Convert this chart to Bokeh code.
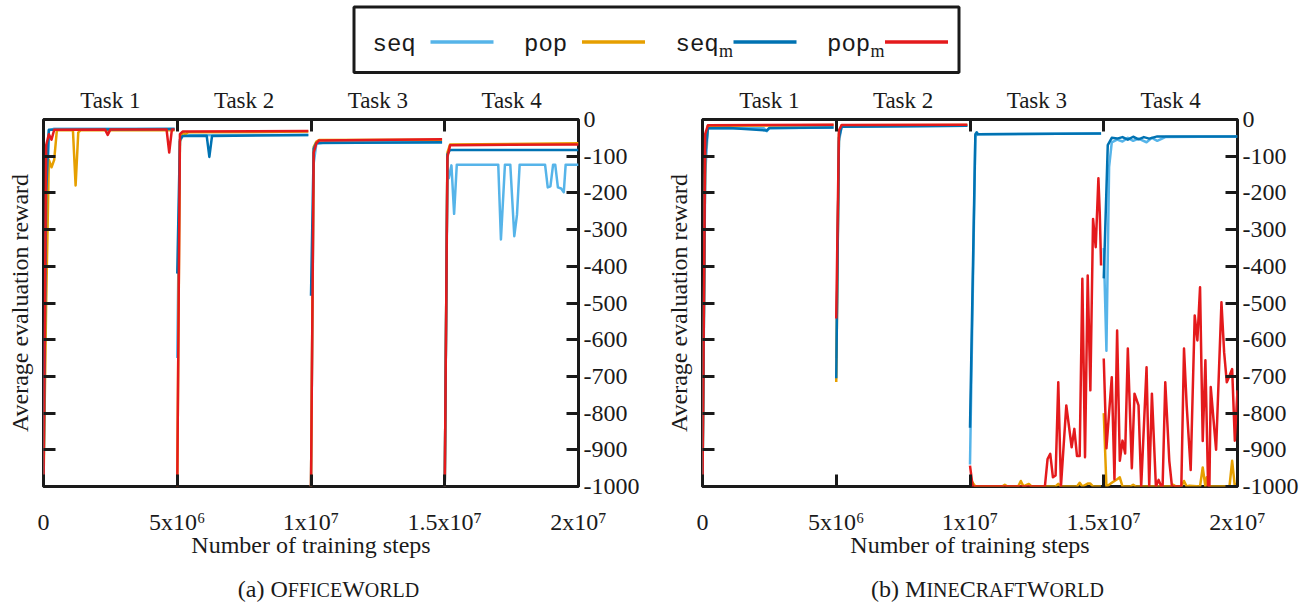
from bokeh.plotting import figure
from bokeh.models import Range1d, LinearAxis, FixedTicker
from bokeh.layouts import column, row
from bokeh.embed import file_html
from bokeh.resources import INLINE
from bokeh.core.properties import value

# ---------------- chart data ----------------
SERIES_NAMES = ["seq", "pop", "seq", "pop"]
SERIES_SUBS = ["", "", "m", "m"]
SERIES_COLORS = ["#56B4E9", "#E69F00", "#0072B2", "#E41A1C"]
TASK_LABELS = ["Task 1", "Task 2", "Task 3", "Task 4"]
TASK_LENGTH = 5e6
X_MAX = 2e7
Y_MIN, Y_MAX = -1000, 0
X_TICKS = [0, 5e6, 1e7, 1.5e7, 2e7]
X_TICK_LABELS = ["0", "5x10⁶", "1x10⁷", "1.5x10⁷", "2x10⁷"]
Y_TICKS = [0, -100, -200, -300, -400, -500, -600, -700, -800, -900, -1000]
Y_TICK_LABELS = ["0", "-100", "-200", "-300", "-400", "-500", "-600", "-700", "-800", "-900", "-1000"]
Y_LABEL = "Average evaluation reward"
X_LABEL = "Number of training steps"
STEP_UNIT = 1e6  # x values of the series are in millions of steps

# (a) OfficeWorld
OW_SEQ_X = [0, 0.1, 0.2, 0.4, 4.9,
            5.0, 5.1, 5.2, 5.5, 9.9,
            10.0, 10.1, 10.2, 10.5, 14.9,
            15.0, 15.1, 15.15, 15.25, 15.35, 15.45, 17.0, 17.1, 17.25, 17.45, 17.6, 17.7,
            17.8, 18.75, 18.85, 18.95, 19.05, 19.13, 19.23, 19.35, 19.45, 19.52, 20.0]
OW_SEQ_Y = [-1000, -300, -30, -25, -25,
            -650, -60, -45, -43, -42,
            -1000, -120, -66, -63, -63,
            -1000, -135, -160, -125, -257, -123, -123, -327, -123, -123, -318, -260,
            -123, -123, -185, -182, -123, -123, -185, -188, -198, -123, -123]
OW_POP_X = [0, 0.1, 0.2, 0.3, 0.4, 0.5, 1.1, 1.2, 1.3, 1.4, 4.9,
            5.0, 5.1, 5.2, 5.3, 5.4, 9.9,
            10.0, 10.1, 10.2, 10.3, 14.9,
            15.0, 15.1, 15.2, 20.0]
OW_POP_Y = [-1000, -500, -110, -130, -110, -29, -29, -180, -35, -29, -29,
            -1000, -60, -35, -40, -35, -33,
            -1000, -75, -60, -56, -55,
            -1000, -90, -68, -65]
OW_SEQM_X = [0, 0.1, 0.2, 4.9,
             5.0, 5.1, 5.2, 6.1, 6.2, 6.3, 9.9,
             10.0, 10.1, 10.2, 14.9,
             15.0, 15.1, 15.2, 20.0]
OW_SEQM_Y = [-1000, -200, -28, -26,
             -420, -55, -45, -44, -102, -45, -42,
             -480, -80, -64, -62,
             -1000, -95, -83, -83]
OW_POPM_X = [0, 0.1, 0.2, 0.3, 0.4, 2.3, 2.4, 2.5, 4.6, 4.7, 4.8, 4.9,
             5.0, 5.1, 5.2, 9.9,
             10.0, 10.1, 10.2, 10.3, 14.9,
             15.0, 15.1, 15.2, 20.0]
OW_POPM_Y = [-1000, -70, -40, -55, -28, -27, -42, -27, -27, -90, -27, -27,
             -1000, -40, -33, -31,
             -1000, -90, -65, -57, -54,
             -1000, -103, -70, -68]

# (b) MineCraftWorld
MC_SEQ_X = [0, 0.1, 0.2, 2.3, 2.4, 2.5, 4.9,
            5.0, 5.1, 5.2, 9.9,
            10.0, 10.2, 10.3, 14.9,
            15.0, 15.1, 15.2, 15.3, 15.5, 15.7, 15.9, 16.1, 16.3, 16.6, 16.8, 17.0, 17.3, 20.0]
MC_SEQ_Y = [-1000, -150, -24, -24, -32, -24, -22,
            -650, -60, -20, -17,
            -940, -45, -40, -38,
            -350, -630, -130, -62, -55, -60, -50, -58, -52, -62, -50, -58, -48, -46]
MC_POP_X = [0, 0.1, 0.2, 4.9,
            5.0, 5.1, 5.2, 9.9,
            10.0, 10.1, 10.2, 11.2, 11.3, 11.4, 11.8, 11.9, 12.0, 12.2, 12.3, 13.2, 13.3, 13.4,
            14.0, 14.1, 14.2, 14.4, 14.5, 14.6, 14.9,
            15.0, 15.1, 15.2, 15.3, 15.5, 15.6, 15.7, 16.0, 16.1, 16.2, 17.5, 17.6, 17.7,
            17.9, 18.0, 18.1, 18.2, 18.6, 18.7, 18.8, 18.85, 18.95, 19.7, 19.8, 19.9, 20.0]
MC_POP_Y = [-1000, -100, -17, -15,
            -715, -40, -16, -15,
            -975, -990, -1000, -1000, -995, -1000, -1000, -985, -1000, -993, -1000, -1000, -993, -1000,
            -1000, -990, -1000, -992, -992, -1000, -1000,
            -800, -1000, -995, -990, -980, -975, -1000, -1000, -995, -1000, -1000, -995, -1000,
            -1000, -985, -1000, -998, -1000, -948, -1000, -975, -1000, -1000, -930, -1000, -990]
MC_SEQM_X = [0, 0.1, 0.2, 1.0, 2.4, 2.5, 4.9,
             5.0, 5.1, 5.2, 9.9,
             10.0, 10.2, 10.25, 10.3, 14.9,
             15.0, 15.15, 15.3, 15.5, 15.7, 15.9, 16.1, 16.3, 16.5, 16.7, 17.0, 20.0]
MC_SEQM_Y = [-1000, -100, -24, -23, -30, -23, -22,
             -705, -50, -20, -17,
             -840, -40, -35, -40, -38,
             -433, -70, -50, -52, -48, -55, -47, -54, -48, -52, -46, -46]
MC_POPM_X = [0, 0.1, 0.2, 4.9,
             5.0, 5.1, 5.2, 9.9,
             10.0, 10.1, 12.8, 12.9, 13.0, 13.1, 13.2, 13.3, 13.4, 13.6, 13.8, 13.9, 14.0, 14.1,
             14.2, 14.3, 14.4, 14.5, 14.6, 14.7, 14.8, 14.85, 14.9,
             15.0, 15.1, 15.3, 15.4, 15.5, 15.6, 15.7, 15.8, 15.9, 16.05, 16.15, 16.3, 16.4, 16.6,
             16.7, 16.8, 16.95, 17.05, 17.15, 17.2, 17.3, 17.45, 17.55, 17.9, 18.0, 18.1, 18.25,
             18.4, 18.5, 18.6, 18.7, 18.8, 18.9, 18.95, 19.0, 19.1, 19.2, 19.4, 19.5, 19.6, 19.7,
             19.8, 19.9, 20.0]
MC_POPM_Y = [-1000, -40, -16, -14,
             -542, -30, -15, -14,
             -943, -1000, -1000, -925, -911, -975, -970, -716, -1000, -779, -893, -843, -917, -917,
             -434, -920, -425, -738, -271, -348, -160, -253, -398,
             -651, -896, -702, -980, -575, -930, -875, -910, -624, -950, -747, -779, -1000, -675,
             -1000, -747, -1000, -982, -1000, -1000, -716, -930, -1000, -1000, -624, -779, -955,
             -534, -602, -457, -876, -656, -1000, -1000, -729, -815, -900, -498, -634, -716, -698,
             -680, -875, -738]

PANELS = [
    dict(series=[(OW_SEQ_X, OW_SEQ_Y), (OW_POP_X, OW_POP_Y), (OW_SEQM_X, OW_SEQM_Y), (OW_POPM_X, OW_POPM_Y)],
         caption=[("(a) ", True), ("O", True), ("FFICE", False), ("W", True), ("ORLD", False)]),
    dict(series=[(MC_SEQ_X, MC_SEQ_Y), (MC_POP_X, MC_POP_Y), (MC_SEQM_X, MC_SEQM_Y), (MC_POPM_X, MC_POPM_Y)],
         caption=[("(b) ", True), ("M", True), ("INE", False), ("C", True), ("RAFT", False),
                  ("W", True), ("ORLD", False)]),
]

# ---------------- styling / layout ----------------
SERIF = "Liberation Serif"
MONO = "Liberation Mono"
INK = "#1a1a1a"
FS = 24          # main serif size (px)
FS_TASK = 23
FS_SMALL = 20    # small-caps size (px)
FRAME_W, FRAME_H = 535, 367
B_LEFTS = [43, 49]
B_RIGHTS = [75, 78]
B_TOP, B_BOTTOM = 35, 80
TOTAL_W = 1315
LEG_H = 84
CAP_H = 602 - LEG_H - (B_TOP + FRAME_H + B_BOTTOM)
CAPTION_CENTER_OFFSET = 285   # px right of each frame's left edge

# approximate Times advance widths (em) for caption layout
TIMES_W = {'(': .333, ')': .333, 'a': .444, 'b': .5, ' ': .25, 'O': .722, 'F': .556, 'I': .333,
           'C': .667, 'E': .611, 'W': .944, 'R': .667, 'L': .611, 'D': .722, 'M': .889,
           'N': .722, 'A': .722, 'T': .611}


def split_tasks(xs, ys):
    seg_x, seg_y, cur = [], [], None
    for x, y in zip(xs, ys):
        t = min(int(x * STEP_UNIT // TASK_LENGTH), len(TASK_LABELS) - 1)
        if t != cur:
            seg_x.append([])
            seg_y.append([])
            cur = t
        seg_x[-1].append(x * STEP_UNIT)
        seg_y[-1].append(y)
    return seg_x, seg_y


def style_axis(ax):
    ax.axis_line_color = None
    ax.major_tick_in = 12
    ax.major_tick_out = 0
    ax.major_tick_line_width = 3
    ax.major_tick_line_color = INK
    ax.minor_tick_in = 12
    ax.minor_tick_out = 0
    ax.minor_tick_line_width = 3
    ax.minor_tick_line_color = INK
    ax.major_label_text_font = SERIF
    ax.major_label_text_font_size = f"{FS}px"
    ax.major_label_text_color = INK
    ax.axis_label_text_font = SERIF
    ax.axis_label_text_font_size = f"{FS}px"
    ax.axis_label_text_font_style = "normal"
    ax.axis_label_text_color = INK


def make_panel(panel, b_left, b_right):
    p = figure(width=b_left + FRAME_W + b_right, height=B_TOP + FRAME_H + B_BOTTOM,
               x_range=Range1d(0, X_MAX), y_range=Range1d(Y_MIN, Y_MAX),
               output_backend="svg", toolbar_location=None,
               x_axis_location=None, y_axis_location=None,
               min_border_left=b_left, min_border_right=b_right,
               min_border_top=B_TOP, min_border_bottom=B_BOTTOM)
    p.xgrid.visible = False
    p.ygrid.visible = False
    p.grid.visible = False
    p.outline_line_color = INK
    p.outline_line_width = 3
    p.outline_line_alpha = 1
    p.background_fill_color = "white"
    p.border_fill_color = "white"

    bottom = LinearAxis(ticker=FixedTicker(ticks=X_TICKS, minor_ticks=[]),
                        major_label_overrides={float(t): l for t, l in zip(X_TICKS, X_TICK_LABELS)})
    style_axis(bottom)
    bottom.major_label_standoff = 22
    bottom.axis_label = X_LABEL
    bottom.axis_label_standoff = -6
    p.add_layout(bottom, "below")

    centers = [TASK_LENGTH * (i + 0.5) for i in range(len(TASK_LABELS))]
    bounds = [TASK_LENGTH * i for i in range(1, len(TASK_LABELS))]
    top = LinearAxis(ticker=FixedTicker(ticks=centers, minor_ticks=bounds),
                     major_label_overrides={float(c): t for c, t in zip(centers, TASK_LABELS)})
    style_axis(top)
    top.major_tick_line_color = None
    top.major_label_text_font_size = f"{FS_TASK}px"
    top.major_label_standoff = 7
    p.add_layout(top, "above")

    right = LinearAxis(ticker=FixedTicker(ticks=Y_TICKS, minor_ticks=[]),
                       major_label_overrides={float(t): l for t, l in zip(Y_TICKS, Y_TICK_LABELS)})
    style_axis(right)
    right.major_label_standoff = 5
    p.add_layout(right, "right")

    left = LinearAxis(ticker=FixedTicker(ticks=[], minor_ticks=Y_TICKS))
    style_axis(left)
    left.axis_label = Y_LABEL
    left.axis_label_standoff = 11
    p.add_layout(left, "left")

    for (xs, ys), color in zip(panel["series"], SERIES_COLORS):
        sx, sy = split_tasks(xs, ys)
        p.multi_line(xs=sx, ys=sy, line_color=color, line_width=2.5, line_join="round")
    return p


def make_legend():
    lg = figure(width=TOTAL_W, height=LEG_H, x_range=Range1d(0, TOTAL_W), y_range=Range1d(LEG_H, 0),
                output_backend="svg", toolbar_location=None,
                x_axis_location=None, y_axis_location=None, min_border=0)
    lg.outline_line_color = None
    lg.grid.visible = False
    lg.quad(left=[353.5], right=[958.5], top=[6.5], bottom=[72], fill_color=None,
            line_color=INK, line_width=3)
    pitch = 151.5
    tx = [372 + i * pitch for i in range(len(SERIES_NAMES))]
    lg.text(x=tx, y=[44] * len(tx), text=SERIES_NAMES, text_font=value(MONO),
            text_font_size="24px", text_color=INK, text_baseline="middle", text_align="left")
    subs = [(x + 43.5, s) for x, s in zip(tx, SERIES_SUBS) if s]
    lg.text(x=[a for a, _ in subs], y=[50] * len(subs), text=[s for _, s in subs],
            text_font=value(SERIF), text_font_size="18px", text_color=INK,
            text_baseline="middle", text_align="left")
    lx0 = [430 + i * pitch for i in range(len(SERIES_NAMES))]
    lg.segment(x0=lx0, y0=[41.5] * len(lx0), x1=[x + 63 for x in lx0], y1=[41.5] * len(lx0),
               line_color=SERIES_COLORS, line_width=3.5)
    return lg


def make_captions():
    cp = figure(width=TOTAL_W, height=CAP_H, x_range=Range1d(0, TOTAL_W), y_range=Range1d(CAP_H, 0),
                output_backend="svg", toolbar_location=None,
                x_axis_location=None, y_axis_location=None, min_border=0)
    cp.outline_line_color = None
    cp.grid.visible = False
    frame_lefts = [B_LEFTS[0], B_LEFTS[0] + FRAME_W + B_RIGHTS[0] + B_LEFTS[1]]
    for panel, fl in zip(PANELS, frame_lefts):
        widths = [sum(TIMES_W[c] for c in s) * (FS if big else FS_SMALL) for s, big in panel["caption"]]
        x = fl + CAPTION_CENTER_OFFSET - sum(widths) / 2
        for (s, big), w in zip(panel["caption"], widths):
            cp.text(x=[x], y=[CAP_H - 14], text=[s], text_font=value(SERIF),
                    text_font_size=f"{FS if big else FS_SMALL}px", text_color=INK,
                    text_baseline="middle" if big else "middle", text_align="left",
                    y_offset=0 if big else 1)
            x += w
    return cp


panels = [make_panel(pn, bl, br) for pn, bl, br in zip(PANELS, B_LEFTS, B_RIGHTS)]
layout = column(make_legend(), row(*panels), make_captions())
open("out.html", "w").write(file_html(layout, INLINE))
